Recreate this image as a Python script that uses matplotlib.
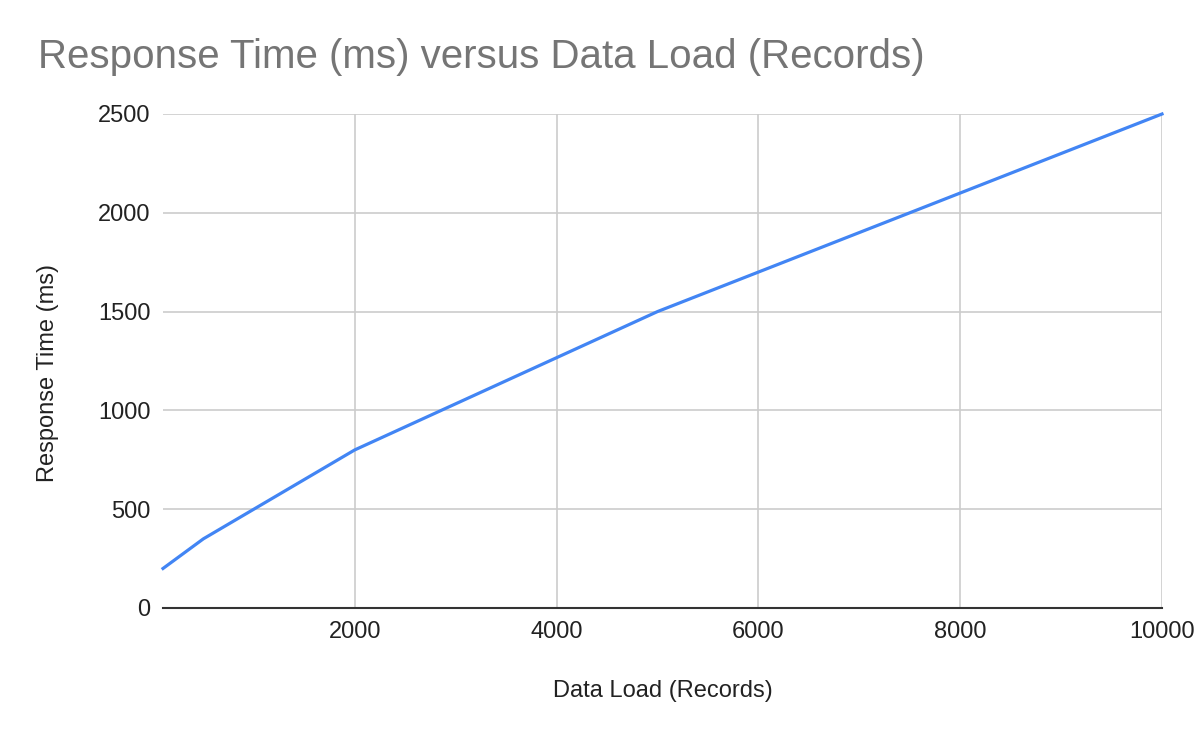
import matplotlib.pyplot as plt

plt.rcParams['font.family'] = ['Liberation Sans', 'DejaVu Sans']

# 数据
data_load = [100, 500, 1000, 2000, 5000, 10000]
response_time = [200, 350, 500, 800, 1500, 2500]
x_ticks = [2000, 4000, 6000, 8000, 10000]
y_ticks = [0, 500, 1000, 1500, 2000, 2500]

W, H = 1200, 742
fig = plt.figure(figsize=(W / 100, H / 100), dpi=100)
ax = fig.add_axes([163 / W, 1 - 608 / H, (1162 - 163) / W, (608 - 114) / H])

ax.plot(data_load, response_time, color='#4285F4', lw=2.3, solid_joinstyle='round', clip_on=False, zorder=3)

ax.set_xlim(100, 10000)
ax.set_ylim(0, 2500)
ax.set_xticks(x_ticks)
ax.set_yticks(y_ticks)
ax.grid(True, color='#cccccc', lw=1.2)
ax.set_axisbelow(True)
ax.tick_params(length=0, labelsize=17, labelcolor='#222222', pad=9)
for s in ['top', 'right', 'left']:
    ax.spines[s].set_visible(False)
ax.spines['bottom'].set_color('#333333')
ax.spines['bottom'].set_linewidth(1.5)

ax.set_xlabel('Data Load (Records)', fontsize=17, color='#222222', va='center')
ax.set_ylabel('Response Time (ms)', fontsize=17, color='#222222', va='center')
ax.xaxis.set_label_coords((663 - 163) / 999, (608 - 691) / 494)
ax.yaxis.set_label_coords((48 - 163) / 999, (608 - 373) / 494)

fig.text(38 / W, 1 - 57 / H, 'Response Time (ms) versus Data Load (Records)',
         fontsize=29, color='#757575', ha='left', va='center')

plt.savefig('out.png', dpi=100)
